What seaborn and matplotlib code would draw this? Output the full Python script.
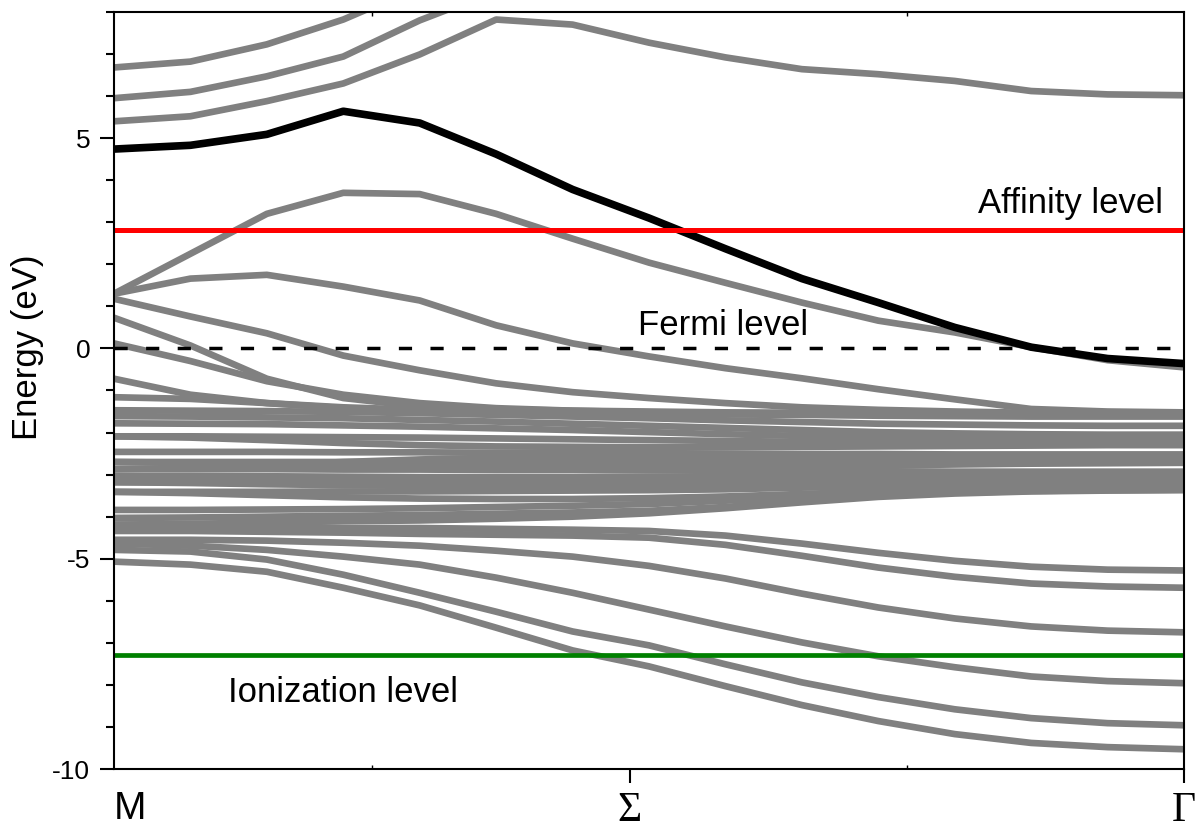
import matplotlib

matplotlib.use("Agg")
import matplotlib.pyplot as plt
import pandas as pd
import seaborn as sns
from matplotlib.ticker import MultipleLocator

sns.set_theme(style="ticks")
plt.rcParams["font.family"] = ["Liberation Sans", "DejaVu Sans"]
plt.rcParams["text.color"] = "black"
plt.rcParams["axes.unicode_minus"] = False

# k-path samples (M -> Sigma -> Gamma) and symmetry points
kpath = [0.0, 0.1, 0.2, 0.3, 0.4, 0.5, 0.6, 0.7, 0.8, 0.9, 1.0, 1.1, 1.2, 1.3, 1.4]
sym_pos = [0.0, 0.675, 1.4]
sym_labels = ["M", "Σ", "Γ"]

fermi_level = 0.0
affinity_level = 2.82
ionization_level = -7.30

# highlighted band (black)
band_hl = [4.74, 4.83, 5.09, 5.64, 5.36, 4.62, 3.78, 3.10, 2.37, 1.66, 1.09, 0.50, 0.03, -0.24, -0.36]

# upper gray bands
band_01 = [6.68, 6.82, 7.23, 7.82, 8.60, 9.00, 9.20, 9.30, 9.30, 9.30, 9.30, 9.30, 9.30, 9.30, 9.30]
band_02 = [5.95, 6.10, 6.47, 6.94, 7.80, 8.50, 8.90, 9.00, 9.10, 9.10, 9.10, 9.10, 9.10, 9.10, 9.10]
band_03 = [5.40, 5.52, 5.88, 6.30, 6.99, 7.82, 7.70, 7.27, 6.92, 6.64, 6.52, 6.36, 6.12, 6.04, 6.02]
band_04 = [1.30, 2.25, 3.20, 3.70, 3.67, 3.20, 2.61, 2.04, 1.56, 1.09, 0.66, 0.38, 0.03, -0.28, -0.45]
band_05 = [1.30, 1.66, 1.75, 1.47, 1.14, 0.55, 0.12, -0.19, -0.47, -0.71, -0.97, -1.21, -1.44, -1.50, -1.52]
band_06 = [1.18, 0.76, 0.36, -0.17, -0.52, -0.83, -1.04, -1.18, -1.30, -1.40, -1.46, -1.50, -1.53, -1.55, -1.56]
band_07 = [0.73, 0.07, -0.72, -1.18, -1.38, -1.45, -1.48, -1.50, -1.52, -1.53, -1.54, -1.55, -1.56, -1.57, -1.57]
band_08 = [0.12, -0.30, -0.78, -1.10, -1.30, -1.42, -1.48, -1.52, -1.55, -1.57, -1.58, -1.59, -1.60, -1.60, -1.60]
band_09 = [-0.72, -1.10, -1.30, -1.42, -1.47, -1.50, -1.52, -1.53, -1.54, -1.54, -1.55, -1.55, -1.55, -1.55, -1.55]
band_10 = [-1.16, -1.20, -1.30, -1.40, -1.46, -1.50, -1.53, -1.55, -1.57, -1.58, -1.60, -1.61, -1.62, -1.62, -1.62]

# dense valence cluster
band_11 = [-1.47, -1.48, -1.49, -1.51, -1.54, -1.58, -1.62, -1.66, -1.71, -1.75, -1.79, -1.81, -1.83, -1.84, -1.84]
band_12 = [-1.61, -1.62, -1.64, -1.66, -1.70, -1.74, -1.79, -1.84, -1.89, -1.94, -1.99, -2.02, -2.04, -2.05, -2.05]
band_13 = [-1.78, -1.79, -1.80, -1.83, -1.86, -1.90, -1.94, -1.99, -2.04, -2.08, -2.12, -2.15, -2.17, -2.18, -2.18]
band_14 = [-2.09, -2.09, -2.10, -2.11, -2.12, -2.14, -2.16, -2.18, -2.20, -2.22, -2.24, -2.25, -2.25, -2.26, -2.26]
band_15 = [-2.46, -2.46, -2.46, -2.47, -2.47, -2.48, -2.48, -2.49, -2.50, -2.51, -2.51, -2.52, -2.52, -2.52, -2.52]
band_16 = [-2.70, -2.70, -2.70, -2.70, -2.70, -2.70, -2.71, -2.71, -2.71, -2.71, -2.71, -2.71, -2.71, -2.71, -2.71]
band_17 = [-2.87, -2.87, -2.87, -2.88, -2.88, -2.89, -2.89, -2.90, -2.91, -2.92, -2.92, -2.93, -2.93, -2.93, -2.93]
band_18 = [-3.03, -3.03, -3.04, -3.05, -3.06, -3.06, -3.06, -3.05, -3.05, -3.04, -3.04, -3.03, -3.03, -3.03, -3.03]
band_19 = [-3.18, -3.18, -3.18, -3.17, -3.17, -3.17, -3.16, -3.15, -3.15, -3.14, -3.14, -3.13, -3.13, -3.13, -3.13]
band_20 = [-3.41, -3.41, -3.41, -3.40, -3.40, -3.39, -3.38, -3.37, -3.35, -3.31, -3.28, -3.26, -3.25, -3.25, -3.25]
band_21 = [-3.84, -3.84, -3.83, -3.82, -3.80, -3.77, -3.74, -3.70, -3.62, -3.52, -3.43, -3.38, -3.35, -3.34, -3.33]
band_22 = [-4.03, -4.02, -4.00, -3.98, -3.96, -3.93, -3.90, -3.86, -3.77, -3.63, -3.50, -3.43, -3.39, -3.37, -3.36]
band_23 = [-2.09, -2.12, -2.18, -2.25, -2.30, -2.33, -2.34, -2.35, -2.35, -2.34, -2.33, -2.32, -2.31, -2.30, -2.30]
band_24 = [-2.87, -2.84, -2.78, -2.70, -2.64, -2.60, -2.59, -2.59, -2.60, -2.61, -2.62, -2.62, -2.62, -2.62, -2.62]
band_25 = [-3.41, -3.44, -3.49, -3.54, -3.57, -3.58, -3.58, -3.56, -3.52, -3.46, -3.40, -3.35, -3.32, -3.30, -3.30]
band_26 = [-4.19, -4.17, -4.14, -4.11, -4.09, -4.05, -4.00, -3.92, -3.80, -3.66, -3.53, -3.45, -3.40, -3.38, -3.37]
band_27 = [-2.70, -2.72, -2.76, -2.80, -2.82, -2.83, -2.83, -2.82, -2.81, -2.80, -2.78, -2.76, -2.74, -2.73, -2.72]
band_28 = [-3.18, -3.20, -3.23, -3.25, -3.27, -3.28, -3.28, -3.27, -3.26, -3.24, -3.22, -3.20, -3.19, -3.18, -3.18]

# lower gray bands
band_29 = [-4.19, -4.19, -4.24, -4.27, -4.27, -4.29, -4.31, -4.34, -4.45, -4.64, -4.86, -5.05, -5.19, -5.26, -5.28]
band_30 = [-4.34, -4.34, -4.36, -4.38, -4.41, -4.43, -4.45, -4.50, -4.67, -4.93, -5.21, -5.43, -5.59, -5.66, -5.69]
band_31 = [-4.55, -4.55, -4.57, -4.62, -4.69, -4.81, -4.95, -5.17, -5.47, -5.83, -6.16, -6.42, -6.61, -6.71, -6.75]
band_32 = [-4.64, -4.69, -4.79, -4.95, -5.14, -5.45, -5.81, -6.21, -6.61, -6.99, -7.32, -7.58, -7.80, -7.91, -7.96]
band_33 = [-4.79, -4.83, -5.02, -5.38, -5.81, -6.26, -6.73, -7.06, -7.51, -7.94, -8.29, -8.58, -8.79, -8.91, -8.96]
band_34 = [-5.07, -5.14, -5.31, -5.69, -6.11, -6.64, -7.18, -7.56, -8.03, -8.48, -8.86, -9.17, -9.38, -9.48, -9.53]

gray_bands = [band_01, band_02, band_03, band_04, band_05, band_06, band_07,
              band_08, band_09, band_10, band_11, band_12, band_13, band_14,
              band_15, band_16, band_17, band_18, band_19, band_20, band_21,
              band_22, band_23, band_24, band_25, band_26, band_27, band_28,
              band_29, band_30, band_31, band_32, band_33, band_34]

df = pd.DataFrame(
    [(i, k, e) for i, band in enumerate(gray_bands) for k, e in zip(kpath, band)],
    columns=["band", "k", "E"],
)

fig = plt.figure(figsize=(11.96, 8.31), dpi=100)
ax = fig.add_axes([0.0953, 0.0746, 0.8947, 0.911])

sns.lineplot(data=df, x="k", y="E", units="band", estimator=None, sort=False,
             color="#808080", lw=4.8, ax=ax, legend=False)
sns.lineplot(x=kpath, y=band_hl, color="black", lw=5.5, ax=ax, legend=False)

ax.axhline(affinity_level, color="#ff0000", lw=3.6)
ax.axhline(ionization_level, color="#008000", lw=3.4)
ax.axhline(fermi_level, color="black", lw=2.5, ls=(0, (3.8, 5.3)))

ax.text(1.3725, 3.22, "Affinity level", fontsize=25, ha="right", va="baseline")
ax.text(0.6856, 0.33, "Fermi level", fontsize=25, ha="left", va="baseline")
ax.text(0.149, -8.41, "Ionization level", fontsize=25, ha="left", va="baseline")

ax.set_xlim(kpath[0], kpath[-1])
ax.set_ylim(-10, 8)
ax.set_xticks(sym_pos, sym_labels)
ax.xaxis.set_minor_locator(plt.FixedLocator([0.3375, 1.0375]))
ax.yaxis.set_major_locator(MultipleLocator(5))
ax.yaxis.set_minor_locator(MultipleLocator(1))

ax.tick_params(axis="y", which="major", direction="out", length=10, width=1.5,
               labelsize=19, pad=7, color="black", labelcolor="black")
ax.tick_params(axis="y", which="minor", direction="out", length=6, width=1.5, color="black")
ax.tick_params(axis="x", which="major", direction="out", length=10, width=1.5,
               labelsize=28, pad=6, color="black", labelcolor="black")
ax.tick_params(axis="x", which="minor", direction="in", length=3, width=1, top=True,
               color="black")
ax.xaxis.get_major_ticks()[0].tick1line.set_visible(False)

xlabels = ax.get_xticklabels()
xlabels[0].set_horizontalalignment("left")
for lbl in xlabels[1:]:
    lbl.set_fontfamily(["Liberation Serif", "DejaVu Serif"])
    lbl.set_fontsize(30)

ax.set_xlabel("")
ax.set_ylabel("Energy (eV)", fontsize=25, color="black")
ax.yaxis.set_label_coords(-0.0654, 0.557)

for side in ["left", "right", "top", "bottom"]:
    ax.spines[side].set_visible(True)
    ax.spines[side].set_linewidth(1.5)
    ax.spines[side].set_color("black")

fig.savefig("out.png", dpi=100)
